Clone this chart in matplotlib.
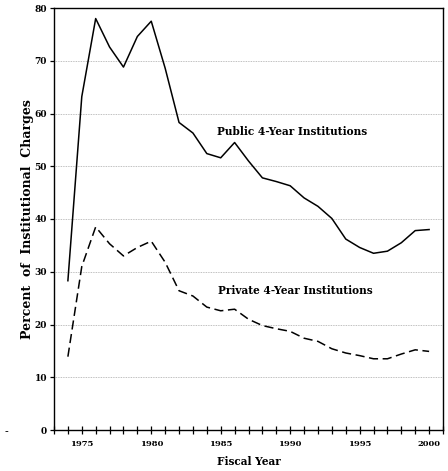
import matplotlib
matplotlib.use("Agg")
import matplotlib.pyplot as plt
from matplotlib.ticker import MultipleLocator

years = list(range(1974, 2001))
public = [28.3, 63.2, 78.0, 72.6, 68.8, 74.6, 77.5, 68.6, 58.3, 56.3, 52.4, 51.6, 54.5,
          51.0, 47.8, 47.1, 46.3, 44.0, 42.4, 40.1, 36.2, 34.6, 33.5, 33.9, 35.5, 37.8, 38.0]
private = [13.9, 31.0, 38.5, 35.3, 33.0, 34.6, 35.8, 31.8, 26.4, 25.4, 23.3, 22.6, 22.9,
           21.0, 19.8, 19.2, 18.7, 17.4, 16.8, 15.4, 14.6, 14.1, 13.5, 13.5, 14.4, 15.2, 14.9]
xticks = [1975, 1980, 1985, 1990, 1995, 2000]
yticks = [0, 10, 20, 30, 40, 50, 60, 70, 80]

plt.rcParams['font.family'] = ['DejaVu Serif']

fig = plt.figure(figsize=(4.48, 4.71), dpi=100)
ax = fig.add_axes([54/448, 1-430/471, (443-54)/448, (430-8)/471])

ax.plot(years, public, color='black', lw=1.1)
ax.plot(years, private, color='black', lw=1.1, dashes=(6, 3))

ax.set_xlim(1973, 2001)
ax.set_ylim(0, 80)
ax.set_yticks(yticks)
ax.set_xticks(xticks)
ax.xaxis.set_minor_locator(MultipleLocator(1))
ax.grid(axis='y', color='#aaaaaa', lw=0.6, ls=(0, (1, 1)))
ax.tick_params(axis='x', which='both', direction='inout', length=6, width=0.9, labelsize=6, pad=4)
ax.tick_params(axis='y', direction='out', length=3, width=0.9, labelsize=6.5, pad=2)
for lab in ax.get_xticklabels() + ax.get_yticklabels():
    lab.set_fontweight('bold')
for s in ax.spines.values():
    s.set_linewidth(1.0)

ax.text(1990.1, 56.5, 'Public 4-Year Institutions', ha='center', va='center',
        fontsize=7.6, fontweight='bold')
ax.text(1990.4, 26.4, 'Private 4-Year Institutions', ha='center', va='center',
        fontsize=7.6, fontweight='bold')

ax.set_xlabel('Fiscal Year', fontsize=7.6, fontweight='bold', labelpad=6)
ax.set_ylabel('Percent  of  Institutional  Charges', fontsize=9, fontweight='bold')
ax.yaxis.set_label_coords(-20/389, 0.5)

fig.text(5/448, 1-432/471, '-', fontsize=8, ha='left', va='center')

fig.savefig('out.png', dpi=100)
